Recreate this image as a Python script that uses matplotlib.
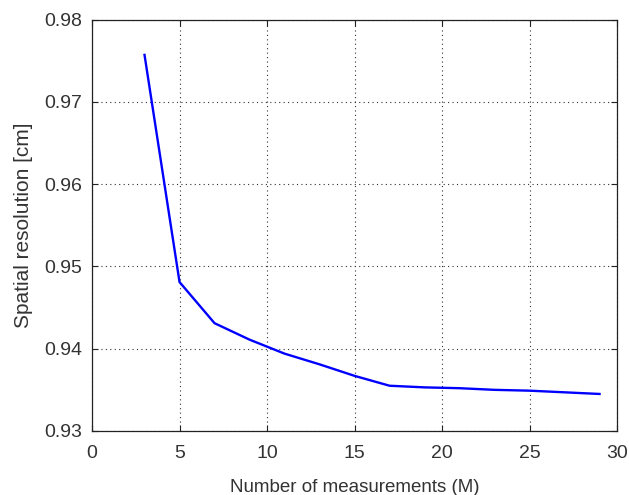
import matplotlib
matplotlib.use("Agg")
import matplotlib.pyplot as plt

M = [3, 5, 7, 9, 11, 13, 15, 17, 19, 21, 23, 25, 27, 29]
resolution = [0.9757, 0.9481, 0.9431, 0.9411, 0.9394, 0.9381, 0.9367, 0.9355,
              0.9353, 0.9352, 0.9350, 0.9349, 0.9347, 0.9345]
xticks = [0, 5, 10, 15, 20, 25, 30]
yticks = [0.93, 0.94, 0.95, 0.96, 0.97, 0.98]

plt.rcParams['font.family'] = ['Liberation Sans', 'DejaVu Sans']
fig = plt.figure(figsize=(6.29, 4.95), dpi=100)
ax = fig.add_axes([0.1463, 0.1293, 0.8347, 0.8313])
ax.plot(M, resolution, color='#0000ff', lw=1.7)
ax.set_xlim(0, 30)
ax.set_ylim(0.93, 0.98)
ax.set_xticks(xticks)
ax.set_yticks(yticks)
ax.set_yticklabels([f"{v:.2f}" for v in yticks])
ax.grid(True, linestyle=(0, (1, 3)), color='#333333', lw=0.8)
ax.tick_params(direction='in', top=True, right=True, length=4, labelsize=14,
               colors='#222222', labelcolor='#333333')
ax.tick_params(axis='x', pad=10)
ax.tick_params(axis='y', pad=7)
for s in ax.spines.values():
    s.set_color('#222222')
    s.set_linewidth(0.9)
ax.set_xlabel('Number of measurements (M)', fontsize=13.5, color='#333333', labelpad=12)
ax.set_ylabel('Spatial resolution [cm]', fontsize=15, color='#333333', labelpad=8)
fig.savefig('out.png', dpi=100)
